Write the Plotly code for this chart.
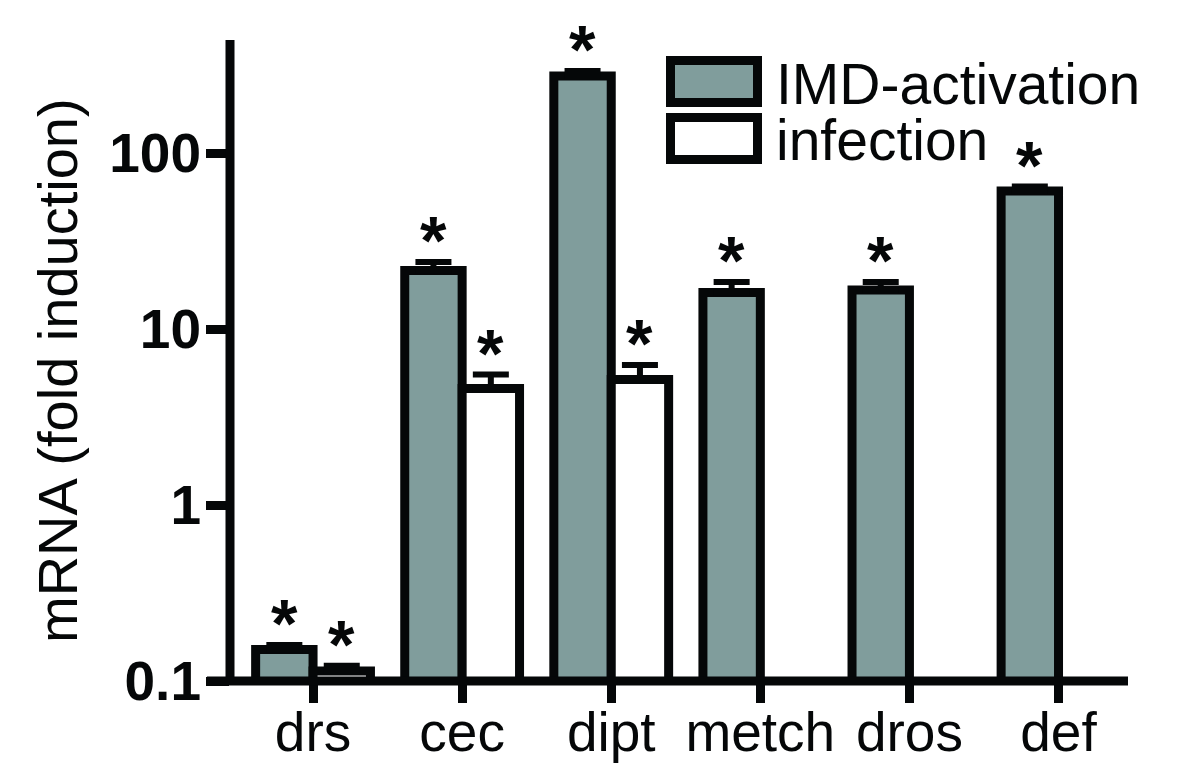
import math
import plotly.graph_objects as go

categories = ["drs", "cec", "dipt", "metch", "dros", "def"]
imd_values = [0.151, 21.5, 274, 16.1, 16.65, 60.8]
imd_errors = [0.009, 2.5, 18, 2.4, 1.85, 3.7]
inf_values = [0.114, 4.59, 5.16, None, None, None]
inf_errors = [0.008, 0.92, 1.08, None, None, None]
imd_signif = [True, True, True, True, True, True]
inf_signif = [True, True, True, False, False, False]
y_tickvals = [0.1, 1, 10, 100]
y_ticktext = ["0.1", "1", "10", "100"]

GREY = "rgb(128,157,156)"
BLACK = "#050708"
FONT = "Liberation Sans, Arial, sans-serif"

# the page body has an 8px margin; the figure is sized so that page pixels match
OFF = 8
W, H = 1200 - OFF, 767 - OFF
ML, MR, MT, MB = 230 - OFF, 72, 40 - OFF, 86
PW, PH = W - ML - MR, H - MT - MB

BARGAP = 0.23
half = (1 - BARGAP) / 4  # offset of each bar centre from category centre

fig = go.Figure()
fig.add_trace(go.Bar(
    x=categories, y=imd_values, name="IMD-activation",
    marker=dict(color=GREY, line=dict(color=BLACK, width=9)),
    error_y=dict(type="data", array=imd_errors, arrayminus=[0] * 6, symmetric=False,
                 color=BLACK, thickness=6, width=18),
))
fig.add_trace(go.Bar(
    x=categories, y=inf_values, name="infection",
    marker=dict(color="white", line=dict(color=BLACK, width=9)),
    error_y=dict(type="data", array=[e if e is not None else 0 for e in inf_errors],
                 arrayminus=[0] * 6, symmetric=False,
                 color=BLACK, thickness=6, width=18),
))

STAR = dict(family=FONT, size=68, color=BLACK)
annotations = []
for i, cat in enumerate(categories):
    if imd_signif[i]:
        annotations.append(dict(x=i - half, y=math.log10(imd_values[i] + imd_errors[i]),
                                xref="x", yref="y", text="<b>*</b>", showarrow=False,
                                yanchor="middle", yshift=22, font=STAR))
    if inf_signif[i] and inf_values[i] is not None:
        annotations.append(dict(x=i + half, y=math.log10(inf_values[i] + inf_errors[i]),
                                xref="x", yref="y", text="<b>*</b>", showarrow=False,
                                yanchor="middle", yshift=22, font=STAR))

def px_x(p):
    # page pixel -> paper x
    return (p - OFF - ML) / PW

def px_y(p):
    # page pixel -> paper y
    return (H - MB - (p - OFF)) / PH

# y-axis title
annotations.append(dict(x=px_x(57), y=px_y(371), xref="paper", yref="paper",
                        text="mRNA (fold induction)", textangle=-90, showarrow=False,
                        xanchor="center", yanchor="middle",
                        font=dict(family=FONT, size=56, color=BLACK)))

# legend (drawn manually)
legend_items = [("IMD-activation", GREY, 81.5), ("infection", "white", 138.5)]
shapes = []
for label, fill, cy in legend_items:
    shapes.append(dict(type="rect", xref="paper", yref="paper",
                       x0=px_x(670.5), x1=px_x(757.5), y0=px_y(cy - 21), y1=px_y(cy + 21),
                       fillcolor=fill, line=dict(color=BLACK, width=9)))
    annotations.append(dict(x=px_x(774), y=px_y(cy + 2), xref="paper", yref="paper",
                            text=label, showarrow=False, xanchor="left", yanchor="middle",
                            font=dict(family=FONT, size=57, color=BLACK)))

# axis lines
shapes.append(dict(type="line", xref="paper", yref="paper", x0=0, x1=0, y0=0, y1=1,
                   line=dict(color=BLACK, width=9)))
shapes.append(dict(type="line", xref="paper", yref="paper", x0=px_x(207), x1=px_x(1128),
                   y0=0, y1=0, line=dict(color=BLACK, width=9)))

fig.update_layout(
    width=W, height=H,
    margin=dict(l=ML, r=MR, t=MT, b=MB, pad=0, autoexpand=False),
    paper_bgcolor="white", plot_bgcolor="white",
    barmode="group", bargap=BARGAP, bargroupgap=0,
    showlegend=False,
    annotations=annotations, shapes=shapes,
    xaxis=dict(range=[-0.557, 5.466], showline=False, showgrid=False, zeroline=False,
               automargin=False,
               ticks="outside", ticklen=21, tickwidth=9, tickcolor=BLACK,
               tickfont=dict(family=FONT, size=55, color=BLACK), ticklabelstandoff=-18),
    yaxis=dict(type="log", range=[-1, -1 + PH / 176], showline=False, showgrid=False,
               zeroline=False, automargin=False, tickvals=y_tickvals, ticktext=y_ticktext,
               ticks="outside", ticklen=23, tickwidth=9, tickcolor=BLACK,
               tickfont=dict(family=FONT, size=55, color=BLACK, weight="bold"),
               ticklabelstandoff=-6),
)

fig.write_html("out.html")
